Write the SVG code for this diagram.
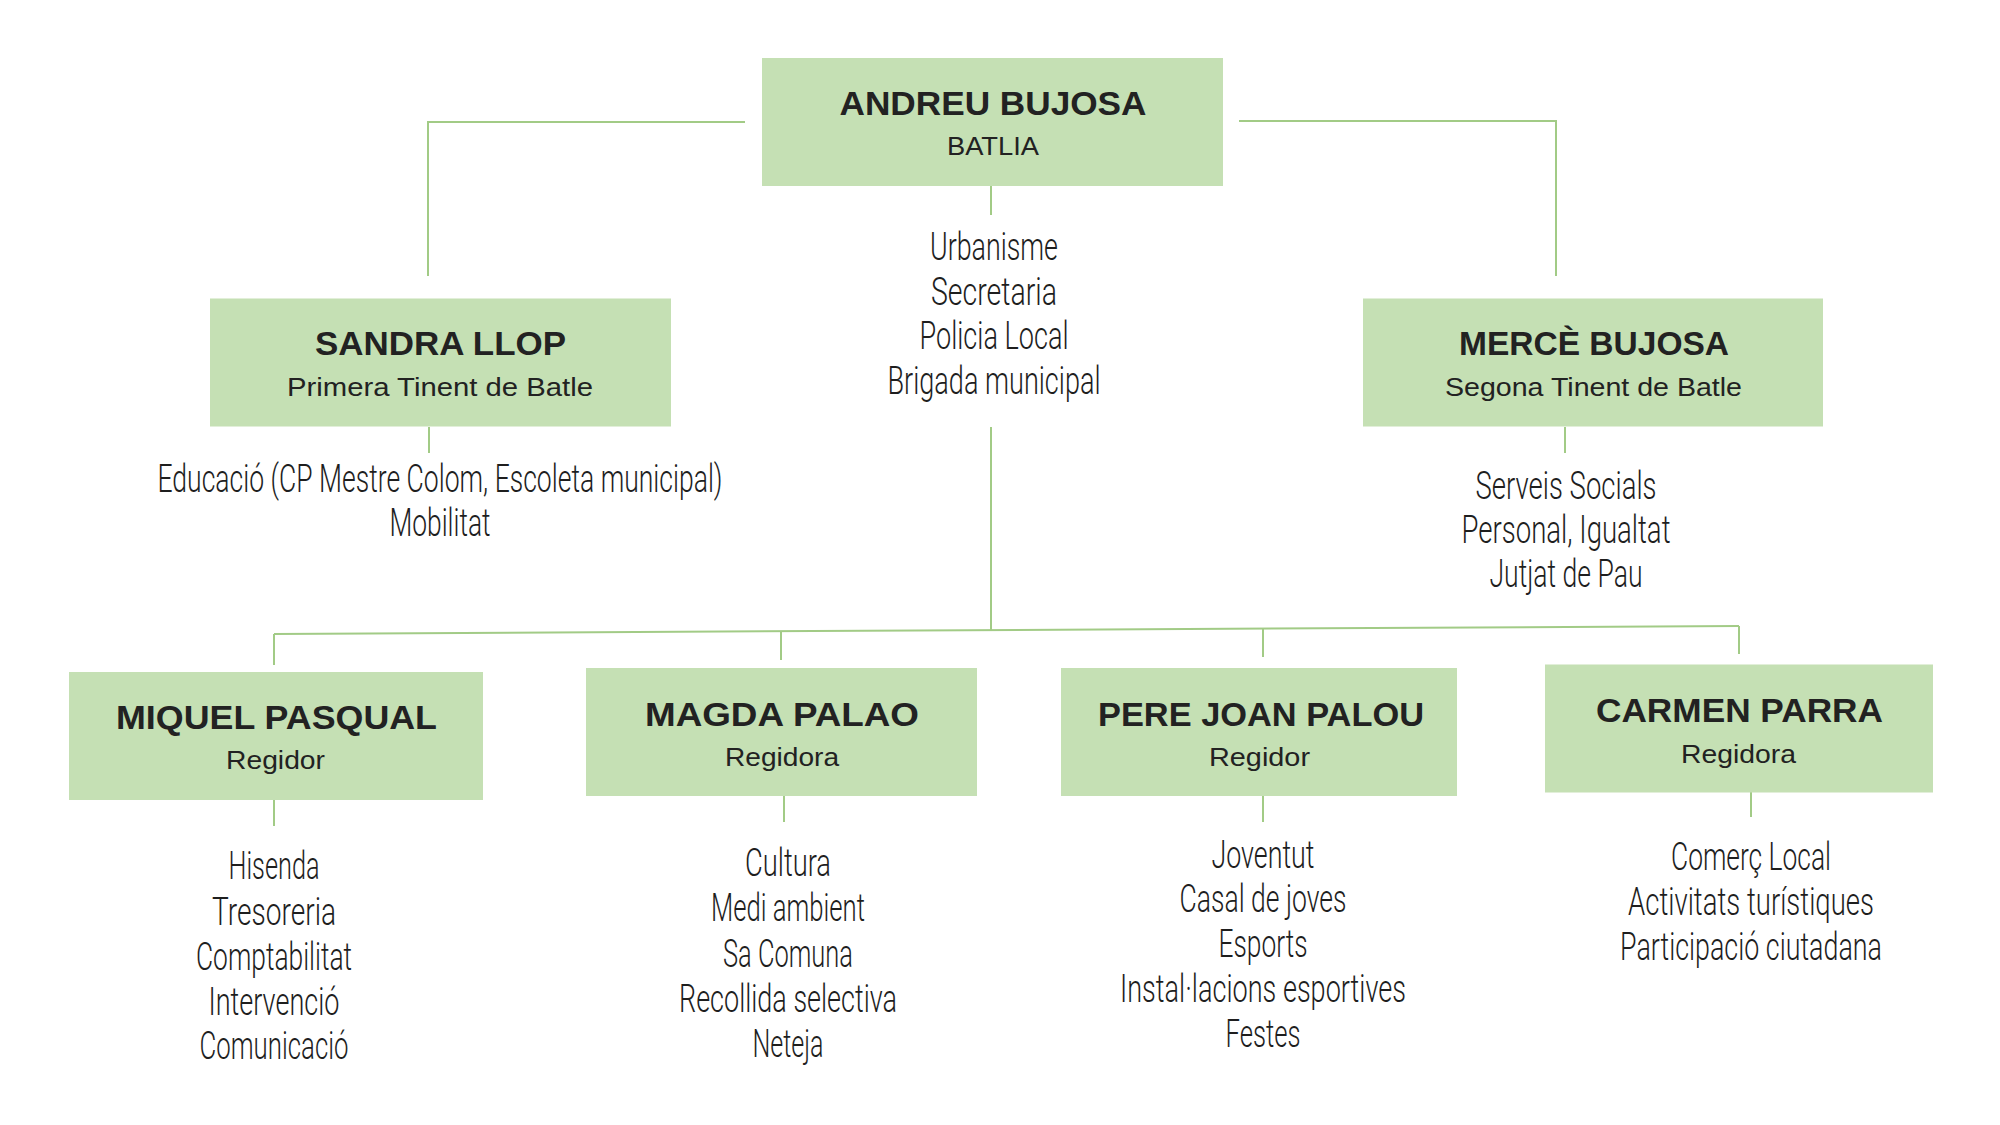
<svg xmlns="http://www.w3.org/2000/svg" width="2000" height="1125" viewBox="0 0 2000 1125">
<style>
.box{fill:#c5e0b4;}
.ln{fill:none;stroke:#a2cb86;stroke-width:2;}
.nm{font-family:"Liberation Sans",Arial,sans-serif;font-weight:bold;font-size:32.5px;fill:#222;text-anchor:middle;}
.rl{font-family:"Liberation Sans",Arial,sans-serif;font-size:25px;fill:#222;text-anchor:middle;}
.ls{font-family:Roboto,"Liberation Sans",sans-serif;font-weight:300;font-size:38.5px;fill:#1e1e1e;text-anchor:middle;}
</style>
<rect width="2000" height="1125" fill="#ffffff"/>
<g id="connectors">
<polyline class="ln" points="745,122 428,122 428,276"/>
<polyline class="ln" points="1239,121 1556,121 1556,276"/>
<line class="ln" x1="991" y1="186" x2="991" y2="215"/>
<line class="ln" x1="429" y1="427" x2="429" y2="453"/>
<line class="ln" x1="1565" y1="427" x2="1565" y2="453"/>
<line class="ln" x1="991" y1="427" x2="991" y2="630"/>
<line class="ln" x1="274" y1="634" x2="1739" y2="626"/>
<line class="ln" x1="274" y1="634" x2="274" y2="665"/>
<line class="ln" x1="781" y1="631" x2="781" y2="660"/>
<line class="ln" x1="1263" y1="628" x2="1263" y2="657"/>
<line class="ln" x1="1739" y1="626" x2="1739" y2="654"/>
<line class="ln" x1="274" y1="800" x2="274" y2="826"/>
<line class="ln" x1="784" y1="796" x2="784" y2="822"/>
<line class="ln" x1="1263" y1="796" x2="1263" y2="822"/>
<line class="ln" x1="1751" y1="792" x2="1751" y2="817"/>
</g>
<g id="andreu">
<rect class="box" x="762" y="58" width="461" height="128"/>
<text class="nm" x="993" y="115" textLength="307" lengthAdjust="spacingAndGlyphs">ANDREU BUJOSA</text>
<text class="rl" x="993" y="155" textLength="92" lengthAdjust="spacingAndGlyphs">BATLIA</text>
</g>
<g id="andreu-list">
<text class="ls" x="994" y="260" textLength="128" lengthAdjust="spacingAndGlyphs">Urbanisme</text>
<text class="ls" x="994" y="305" textLength="126" lengthAdjust="spacingAndGlyphs">Secretaria</text>
<text class="ls" x="994" y="349" textLength="149" lengthAdjust="spacingAndGlyphs">Policia Local</text>
<text class="ls" x="994" y="394" textLength="213" lengthAdjust="spacingAndGlyphs">Brigada municipal</text>
</g>
<g id="sandra">
<rect class="box" x="210" y="298.5" width="461" height="128"/>
<text class="nm" x="440.5" y="355" textLength="251" lengthAdjust="spacingAndGlyphs">SANDRA LLOP</text>
<text class="rl" x="440" y="396" textLength="306" lengthAdjust="spacingAndGlyphs">Primera Tinent de Batle</text>
</g>
<g id="sandra-list">
<text class="ls" x="440" y="492" textLength="565" lengthAdjust="spacingAndGlyphs">Educació (CP Mestre Colom, Escoleta municipal)</text>
<text class="ls" x="440" y="536" textLength="101" lengthAdjust="spacingAndGlyphs">Mobilitat</text>
</g>
<g id="merce">
<rect class="box" x="1363" y="298.5" width="460" height="128"/>
<text class="nm" x="1594" y="355" textLength="270" lengthAdjust="spacingAndGlyphs">MERCÈ BUJOSA</text>
<text class="rl" x="1593.5" y="396" textLength="297" lengthAdjust="spacingAndGlyphs">Segona Tinent de Batle</text>
</g>
<g id="merce-list">
<text class="ls" x="1566" y="499" textLength="181" lengthAdjust="spacingAndGlyphs">Serveis Socials</text>
<text class="ls" x="1566" y="543" textLength="209" lengthAdjust="spacingAndGlyphs">Personal, Igualtat</text>
<text class="ls" x="1566" y="587" textLength="153" lengthAdjust="spacingAndGlyphs">Jutjat de Pau</text>
</g>
<g id="miquel">
<rect class="box" x="69" y="672" width="414" height="128"/>
<text class="nm" x="276.5" y="729" textLength="321" lengthAdjust="spacingAndGlyphs">MIQUEL PASQUAL</text>
<text class="rl" x="275.5" y="769" textLength="99" lengthAdjust="spacingAndGlyphs">Regidor</text>
</g>
<g id="miquel-list">
<text class="ls" x="274" y="879" textLength="91" lengthAdjust="spacingAndGlyphs">Hisenda</text>
<text class="ls" x="274" y="925" textLength="124" lengthAdjust="spacingAndGlyphs">Tresoreria</text>
<text class="ls" x="274" y="970" textLength="156" lengthAdjust="spacingAndGlyphs">Comptabilitat</text>
<text class="ls" x="274" y="1015" textLength="131" lengthAdjust="spacingAndGlyphs">Intervenció</text>
<text class="ls" x="274" y="1059" textLength="149" lengthAdjust="spacingAndGlyphs">Comunicació</text>
</g>
<g id="magda">
<rect class="box" x="586" y="668" width="391" height="128"/>
<text class="nm" x="782" y="726" textLength="274" lengthAdjust="spacingAndGlyphs">MAGDA PALAO</text>
<text class="rl" x="782" y="766" textLength="114" lengthAdjust="spacingAndGlyphs">Regidora</text>
</g>
<g id="magda-list">
<text class="ls" x="788" y="876" textLength="86" lengthAdjust="spacingAndGlyphs">Cultura</text>
<text class="ls" x="788" y="921" textLength="154" lengthAdjust="spacingAndGlyphs">Medi ambient</text>
<text class="ls" x="788" y="967" textLength="130" lengthAdjust="spacingAndGlyphs">Sa Comuna</text>
<text class="ls" x="788" y="1012" textLength="218" lengthAdjust="spacingAndGlyphs">Recollida selectiva</text>
<text class="ls" x="788" y="1057" textLength="71" lengthAdjust="spacingAndGlyphs">Neteja</text>
</g>
<g id="pere">
<rect class="box" x="1061" y="668" width="396" height="128"/>
<text class="nm" x="1261" y="726" textLength="326" lengthAdjust="spacingAndGlyphs">PERE JOAN PALOU</text>
<text class="rl" x="1259.5" y="766" textLength="101" lengthAdjust="spacingAndGlyphs">Regidor</text>
</g>
<g id="pere-list">
<text class="ls" x="1263" y="868" textLength="103" lengthAdjust="spacingAndGlyphs">Joventut</text>
<text class="ls" x="1263" y="912" textLength="167" lengthAdjust="spacingAndGlyphs">Casal de joves</text>
<text class="ls" x="1263" y="957" textLength="89" lengthAdjust="spacingAndGlyphs">Esports</text>
<text class="ls" x="1263" y="1002" textLength="286" lengthAdjust="spacingAndGlyphs">Instal·lacions esportives</text>
<text class="ls" x="1263" y="1047" textLength="75" lengthAdjust="spacingAndGlyphs">Festes</text>
</g>
<g id="carmen">
<rect class="box" x="1545" y="664.5" width="388" height="128"/>
<text class="nm" x="1739.5" y="721.5" textLength="287" lengthAdjust="spacingAndGlyphs">CARMEN PARRA</text>
<text class="rl" x="1738.5" y="763" textLength="115" lengthAdjust="spacingAndGlyphs">Regidora</text>
</g>
<g id="carmen-list">
<text class="ls" x="1751" y="870" textLength="160" lengthAdjust="spacingAndGlyphs">Comerç Local</text>
<text class="ls" x="1751" y="915" textLength="246" lengthAdjust="spacingAndGlyphs">Activitats turístiques</text>
<text class="ls" x="1751" y="960" textLength="262" lengthAdjust="spacingAndGlyphs">Participació ciutadana</text>
</g>
</svg>
